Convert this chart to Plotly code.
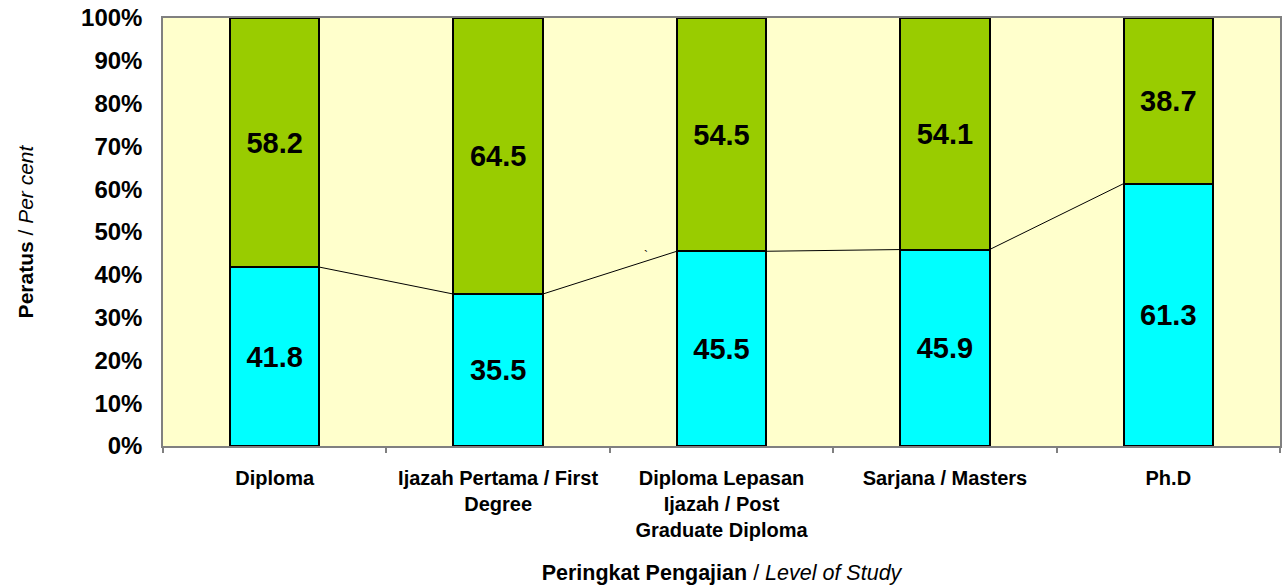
import plotly.graph_objects as go

categories = ["Diploma", "Ijazah Pertama / First<br>Degree", "Diploma Lepasan<br>Ijazah / Post<br>Graduate Diploma", "Sarjana / Masters", "Ph.D"]
lower_vals = [41.8, 35.5, 45.5, 45.9, 61.3]
upper_vals = [58.2, 64.5, 54.5, 54.1, 38.7]
y_ticks = [0, 10, 20, 30, 40, 50, 60, 70, 80, 90, 100]

FONT = "Liberation Sans, Arial, sans-serif"
BAR_W = 0.4
xpos = list(range(len(categories)))

fig = go.Figure()
fig.add_trace(go.Bar(
    x=xpos, y=lower_vals, width=BAR_W,
    marker=dict(color="#00FFFF", line=dict(color="black", width=2)),
    text=[f"{v:.1f}" for v in lower_vals], textposition="inside",
    insidetextanchor="middle", textangle=0,
    textfont=dict(family=FONT, size=29, color="black", weight="bold"),
    showlegend=False,
))
fig.add_trace(go.Bar(
    x=xpos, y=upper_vals, width=BAR_W,
    marker=dict(color="#99CC00", line=dict(color="black", width=2)),
    text=[f"{v:.1f}" for v in upper_vals], textposition="inside",
    insidetextanchor="middle", textangle=0,
    textfont=dict(family=FONT, size=29, color="black", weight="bold"),
    showlegend=False,
))

# series lines joining tops of lower segments
lx, ly = [], []
for i in range(len(lower_vals) - 1):
    lx += [xpos[i] + BAR_W / 2, xpos[i + 1] - BAR_W / 2, None]
    ly += [lower_vals[i], lower_vals[i + 1], None]
fig.add_trace(go.Scatter(x=lx, y=ly, mode="lines", line=dict(color="black", width=1),
                         showlegend=False, hoverinfo="skip"))

# boundary tick marks axis
fig.add_trace(go.Scatter(x=[-0.5, 4.5], y=[None, None], xaxis="x2", mode="markers",
                         showlegend=False, hoverinfo="skip"))

fig.add_annotation(x=1.66, y=44.5, text="`", showarrow=False,
                   font=dict(family=FONT, size=12, color="black"))

fig.update_layout(
    barmode="stack",
    width=1287, height=587,
    margin=dict(l=163, r=7, t=18, b=141),
    paper_bgcolor="white",
    plot_bgcolor="#FFFFCC",
    font=dict(family=FONT, color="black"),
    xaxis=dict(
        range=[-0.5, 4.5], tickvals=xpos, ticktext=categories,
        ticks="", showgrid=False, zeroline=False, automargin=False,
        showline=True, linecolor="#808080", linewidth=1.5, mirror=True,
        tickfont=dict(family=FONT, size=20, weight="bold"),
        ticklabelstandoff=13,
        title=dict(text="<b>Peringkat Pengajian</b> / <i>Level of Study</i>",
                   font=dict(family=FONT, size=21.5), standoff=25),
    ),
    xaxis2=dict(
        overlaying="x", matches="x", range=[-0.5, 4.5], side="bottom",
        tickvals=[-0.5, 0.5, 1.5, 2.5, 3.5, 4.5], showticklabels=False,
        ticks="outside", ticklen=6, tickcolor="#808080", tickwidth=1.5,
        showgrid=False, zeroline=False, showline=False, automargin=False,
    ),
    yaxis=dict(
        range=[0, 100], tickvals=y_ticks, ticktext=[f"{v}%" for v in y_ticks],
        ticks="", showgrid=False, zeroline=False, automargin=False,
        showline=True, linecolor="#808080", linewidth=1.5, mirror=True,
        tickfont=dict(family=FONT, size=24, weight="bold"),
        ticklabelstandoff=14,
        title=dict(text="<b>Peratus</b> / <i>Per cent</i>",
                   font=dict(family=FONT, size=21), standoff=42),
    ),
)

fig.write_html("out.html", config={"displayModeBar": False},
               post_script="document.body.style.margin='0px';")
